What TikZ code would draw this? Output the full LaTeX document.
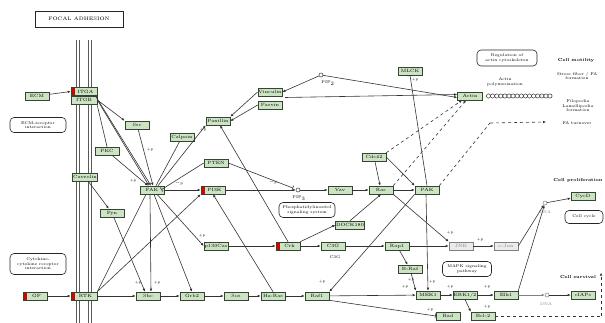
\documentclass[tikz,border=0pt]{standalone}
\usetikzlibrary{arrows.meta}
\definecolor{gfill}{RGB}{204,228,196}
\definecolor{gborder}{RGB}{50,70,50}
\begin{document}
\begin{tikzpicture}[x=1pt,y=-1pt,
 gbox/.style={draw=gborder, fill=gfill, line width=0.6pt, minimum width=24pt, minimum height=8pt, inner sep=0.5pt, font=\fontsize{4.6}{4.8}\selectfont},
 graybox/.style={gbox, draw=gray, fill=black!8, text=gray},
 redmark/.style={path picture={\fill[red!85!black] (path picture bounding box.north west) rectangle ([xshift=4pt]path picture bounding box.south west);}},
 rbox/.style={draw=black!85, rounded corners=4pt, fill=white, align=center, font=\fontsize{4}{4.4}\selectfont, line width=0.6pt, inner sep=1pt},
 lab/.style={font=\fontsize{4}{4.4}\selectfont, align=center, inner sep=0},
 blab/.style={font=\bfseries\fontsize{4.3}{5}\selectfont, inner sep=0},
 plab/.style={font=\fontsize{3.6}{4}\selectfont, inner sep=0},
 dot/.style={circle, draw=black!80, fill=white, minimum size=4pt, inner sep=0, line width=0.5pt},
 con/.style={draw=black!80, line width=0.6pt, -{Latex[length=3pt,width=2.6pt]}},
 dcon/.style={con, dashed},
 inh/.style={draw=black!80, line width=0.6pt, -{Bar[width=5pt]}},
 ln/.style={draw=black!80, line width=0.6pt},
]
\useasboundingbox (0,0) rectangle (605,323);
% title
\node[draw=black!85, line width=0.8pt, minimum width=88pt, minimum height=16pt, font=\fontsize{5}{6}\selectfont] (title) at (79,19) {FOCAL ADHESION};
% membrane
\foreach \mx in {76,79,88,91} \draw[black!65, line width=0.7pt] (\mx,40) -- (\mx,323);
% nodes
\node[gbox] (ecm) at (37,96) {ECM};
\node[gbox, minimum width=26pt, redmark] (itga) at (84,91.5) {\hspace*{3pt}ITGA};
\node[gbox, minimum width=26pt] (itgb) at (84,100) {ITGB};
\node[rbox, minimum width=56pt, minimum height=15pt] (ecmri) at (38,125) {ECM-receptor\\interaction};
\node[gbox] (cav) at (85,177) {Caveolin};
\node[rbox, minimum width=56pt, minimum height=21pt] (cyto) at (38,264) {Cytokine-\\cytokine receptor\\interaction};
\node[gbox, redmark] (gf) at (35,296) {\hspace*{3pt}GF};
\node[gbox, minimum width=26pt, redmark] (rtk) at (84,296) {\hspace*{3pt}RTK};
\node[gbox] (src) at (137,125) {Src};
\node[gbox] (pkc) at (107,151) {PKC};
\node[gbox] (calp) at (182,137) {Calpain};
\node[gbox] (pax) at (218,121) {Paxillin};
\node[gbox] (vinc) at (270,92) {Vinculin};
\node[gbox] (parv) at (270,105) {Parvin};
\node[dot] (pip2) at (321,75) {};
\node[lab] (pip2l) at (328,83) {PIP$_2$};
\node[gbox] (fak) at (152,190) {FAK};
\node[gbox] (pten) at (216,163) {PTEN};
\node[gbox, redmark] (pi3k) at (213,190) {\hspace*{3pt}PI3K};
\node[dot] (pip3) at (298,190) {};
\node[lab] (pip3l) at (299,198) {PIP$_3$};
\node[rbox, minimum width=56pt, minimum height=15pt] (phos) at (307,210) {Phosphatidylinositol\\signaling system};
\node[gbox] (vav) at (340,190) {Vav};
\node[gbox] (rac) at (381,190) {Rac};
\node[gbox] (pak) at (427,190) {PAK};
\node[gbox] (cdc) at (374,157) {Cdc42};
\node[gbox] (dock) at (350,225) {DOCK180};
\node[gbox] (fyn) at (112,213) {Fyn};
\node[gbox] (p130) at (216,246) {p130Cas};
\node[gbox, redmark] (crk) at (288,246) {\hspace*{3pt}Crk};
\node[gbox] (c3g) at (333,246) {C3G};
\node[lab] (c3gl) at (335,257) {C3G};
\node[gbox] (rap) at (397,246) {Rap1};
\node[gbox] (braf) at (410,269) {B-Raf};
\node[graybox] (jnk) at (461,246) {JNK};
\node[graybox] (cjun) at (506,246) {c-Jun};
\node[dot, draw=gray] (dna1) at (545,203) {};
\node[lab, text=gray] (dna1l) at (545,212) {DNA};
\node[gbox] (cycd) at (583,196) {CycD};
\node[rbox, minimum width=38pt, minimum height=13pt] (ccyc) at (584,217) {Cell cycle};
\node[blab] (cprol) at (578,180) {Cell proliferation};
\node[rbox, minimum width=49pt, minimum height=15pt] (mapk) at (467,269) {MAPK signaling\\pathway};
\node[gbox] (shc) at (148,296) {Shc};
\node[gbox] (grb) at (192,296) {Grb2};
\node[gbox] (sos) at (236,296) {Sos};
\node[gbox] (hras) at (273,296) {Ha-Ras};
\node[gbox] (raf) at (317,296) {Raf1};
\node[gbox] (mek) at (428,295) {MEK1};
\node[gbox] (erk) at (465,295) {ERK1/2};
\node[gbox] (elk) at (506,295) {Elk1};
\node[dot, draw=gray] (dna2) at (547,295) {};
\node[lab, text=gray] (dna2l) at (546,304) {DNA};
\node[gbox] (ciap) at (583,295) {cIAPs};
\node[blab] (csurv) at (578,277) {Cell survival};
\node[gbox] (bad) at (448,316) {Bad};
\node[gbox] (bcl) at (483,316) {Bcl-2};
\coordinate (survc) at (601,316);
\node[gbox] (mlck) at (410,71) {MLCK};
\node[gbox, minimum width=25pt] (actin) at (470,96) {Actin};
\foreach \i in {0,...,15} \node[dot, minimum size=4.2pt] (ac\i) at (488.5+\i*4.1,96) {};
\node[lab] (apoly) at (505,82) {Actin\\polymerization};
\node[rbox, minimum width=60pt, minimum height=16pt] (regact) at (507,58) {Regulation of\\actin cytoskeleton};
\node[blab] (cmot) at (576,60) {Cell motility};
\node[lab] (stress) at (577,76) {Stress fiber / FA\\formation};
\node[lab] (filo) at (578,106) {Filopodia\\Lamellipodia\\formation};
\node[lab] (fat) at (577,123) {FA turnover};
\coordinate (fa1) at (490,123);
\coordinate (fa2) at (546,122);
\coordinate (vp) at (285,97.5);
% connectors
\draw[con] (ecm) -- (itga.west);
\draw[con] (itgb.east) -- (src.north west);
\draw[ln] ([yshift=-1pt]itgb.south east) -- (pkc.north);
\draw[con] (itgb.east) -- ([xshift=-3pt]fak.north);
\draw[con] ([xshift=-2pt]itgb.north east) -- ([xshift=-1pt]fak.north);
\draw[con] (src) -- ([xshift=1pt]fak.north);
\draw[con] (pkc) -- ([xshift=-4pt]fak.north);
\draw[ln] (calp) -- ([xshift=4pt]fak.north);
\draw[con] ([xshift=6pt]fak.north) -- (pax.south west);
\draw[con] (vinc.west) -- (pax.north east);
\draw[con] (parv.west) -- (pax.east);
\draw[con] (pip2) -- (vinc.east);
\draw[con] (pip2) -- ([yshift=-1.5pt]actin.west);
\draw[con] (vp) -- ([yshift=1.5pt]actin.west);
\draw[inh] (pten.west) -- ([xshift=-3pt,yshift=-4pt]fak.north east);
\draw[inh, shorten >=3pt] (pten.east) -- (pip3);
\draw[con] (fak) -- (pi3k);
\draw[con] (cav) -- (fyn);
\draw[con] (fyn) -- ([xshift=-3pt]shc.north);
\draw[con] (gf) -- (rtk);
\draw[con] (rtk) -- (shc);
\draw[ln] (rtk.north east) -- ([xshift=-6pt]fak.south);
\draw[con] (rtk.north east) -- (pi3k.south west);
\draw[con] ([xshift=-2pt]fak.south) -- ([xshift=3pt]shc.north);
\draw[con] ([xshift=2pt]fak.south) -- (grb.north);
\draw[con] ([xshift=5pt]fak.south) -- (p130.west);
\draw[con] (shc) -- (grb);
\draw[con] (grb) -- (sos);
\draw[con] (sos) -- (hras);
\draw[con] (hras) -- (raf);
\draw[con] (hras.north) -- (pi3k.south);
\draw[con] (pi3k) -- (pip3);
\draw[con] (pip3) -- (vav);
\draw[con] (vav) -- (rac);
\draw[con] (rac) -- (pak);
\draw[con] (cdc) -- (rac);
\draw[con] (cdc.east) -- (pak.north west);
\draw[con] (p130) -- (crk);
\draw[con] (crk.north east) -- (dock.west);
\draw[con] (dock.north) -- (rac.south);
\draw[con] (crk) -- (c3g);
\draw[con] (c3g) -- (rap);
\draw[con] (crk.north) -- ([xshift=2pt]pax.south);
\draw[con] (rap) -- (braf);
\draw[con] (rap) -- (jnk);
\draw[con] (rac.south east) -- (jnk.north west);
\draw[con] (jnk) -- (cjun);
\draw[con] (cjun.east) -- (dna1);
\draw[con] (dna1) -- (cycd);
\draw[dcon] (cdc.north east) -- ([xshift=-8pt]actin.south);
\draw[dcon] (rac.north east) -- ([xshift=-4pt]actin.south);
\draw[dashed, black!80, line width=0.6pt] (pak.north east) -- (fa1);
\draw[dcon] (fa1) -- (fa2);
\draw[inh] (pak.north) -- (mlck.south);
\draw[con] ([xshift=-1pt]pak.south) -- (mek.north);
\draw[con] (pak.south west) -- (raf.north east);
\draw[con] (raf) -- (mek);
\draw[inh] (raf.south east) -- (bad.west);
\draw[con] (braf) -- (mek.north west);
\draw[con] (mek) -- (erk);
\draw[con] (erk) -- (elk);
\draw[con] (erk.south) -- (bcl.north west);
\draw[con] (elk.north east) -- (dna1);
\draw[con, gray] (elk) -- (dna2);
\draw[con] (dna2) -- (ciap);
\draw[dashed, black!80, line width=0.6pt] (bcl.east) -- (survc);
\draw[dcon] (survc) -- ([yshift=6pt]csurv.south -| survc);
% +p labels
\node[plab] (q1) at (150,150) {+p};
\node[plab] (q2) at (133,181) {+p};
\node[plab] (q3) at (203,130) {+p};
\node[plab] (q4) at (179,183) {$-$p};
\node[plab] (q5) at (273,182) {$-$p};
\node[plab] (q6) at (138,283) {+p};
\node[plab] (q7) at (157,283) {+p};
\node[plab] (q8) at (202,236) {+p};
\node[plab] (q9) at (322,282) {+p};
\node[plab] (q10) at (405,287) {+p};
\node[plab] (q11) at (411,280) {+p};
\node[plab] (q12) at (432,282) {+p};
\node[plab] (q13) at (450,287) {+p};
\node[plab] (q14) at (487,287) {+p};
\node[plab] (q15) at (487,307) {+p};
\node[plab] (q16) at (430,310) {+p};
\node[plab] (q17) at (450,233) {+p};
\node[plab] (q18) at (480,240) {+p};
\node[plab] (q19) at (415,80) {+p};
\end{tikzpicture}
\end{document}
